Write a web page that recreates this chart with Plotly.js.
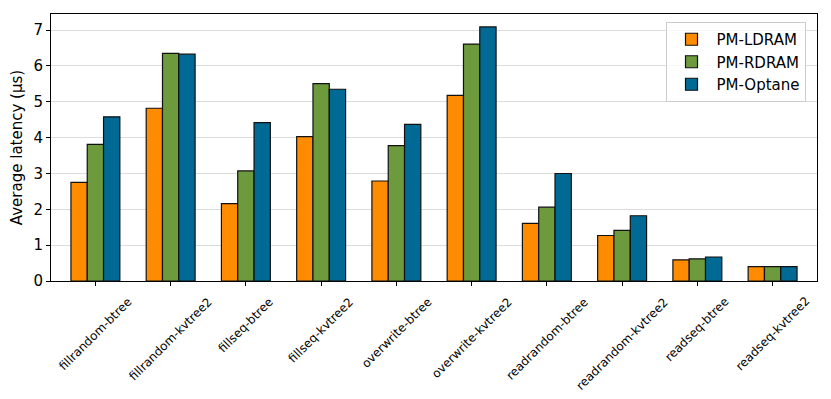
<!DOCTYPE html>
<html>
<head>
<meta charset="utf-8">
<script src="https://cdn.plot.ly/plotly-3.0.1.min.js"></script>
<style>
  body { margin: 0; background: #fff; }
  #graphDiv { width: 831px; height: 399px; }
</style>
</head>
<body>
<div id="graphDiv"></div>
<script>
// benchmarks on the x axis
let benchmarks = ["fillrandom-btree", "fillrandom-kvtree2", "fillseq-btree", "fillseq-kvtree2",
    "overwrite-btree", "overwrite-kvtree2", "readrandom-btree", "readrandom-kvtree2",
    "readseq-btree", "readseq-kvtree2"];

// average latency (us) per backend
let ldram = [2.75, 4.82, 2.16, 4.03, 2.79, 5.18, 1.61, 1.27, 0.59, 0.40];
let rdram = [3.81, 6.35, 3.07, 5.51, 3.78, 6.61, 2.06, 1.41, 0.62, 0.40];
let optane = [4.58, 6.33, 4.42, 5.35, 4.37, 7.09, 3.00, 1.82, 0.67, 0.40];

let yTicks = [0, 1, 2, 3, 4, 5, 6, 7];

let idx = benchmarks.map((b, i) => i);

function barra(nombre, valores, color) {
    return {
        type: 'bar',
        name: nombre,
        x: idx,
        y: valores,
        marker: {color: color, line: {color: '#111', width: 1.2}}
    };
}

var data = [
    barra('PM-LDRAM', ldram, '#ff8c00'),
    barra('PM-RDRAM', rdram, '#6c9a3c'),
    barra('PM-Optane', optane, '#006994')
];

// etiquetas rotadas centradas bajo cada tick (como matplotlib)
let etiquetas = benchmarks.map((b, i) => ({
    text: b,
    x: i, xref: 'x',
    y: 0, yref: 'paper',
    xanchor: 'center', yanchor: 'top',
    yshift: -11,
    textangle: -45,
    showarrow: false,
    font: {size: 12, color: '#000000'}
}));

var layout = {
    width: 831,
    height: 399,
    margin: {l: 51, r: 14, t: 14, b: 118},
    paper_bgcolor: '#fff',
    plot_bgcolor: '#fff',
    font: {family: 'DejaVu Sans', size: 15, color: '#000'},
    barmode: 'group',
    bargap: 0.35,
    bargroupgap: 0,
    showlegend: true,
    legend: {
        x: 0.985, xanchor: 'right', y: 0.97, yanchor: 'top',
        bgcolor: 'rgba(255,255,255,0.8)',
        bordercolor: '#ccc', borderwidth: 1,
        font: {size: 15},
        itemwidth: 40
    },
    annotations: etiquetas,
    xaxis: {
        range: [-0.59, 9.59],
        tickvals: idx,
        showticklabels: false,
        ticks: 'outside', ticklen: 4, tickcolor: '#000',
        showline: true, mirror: true, linecolor: '#000', linewidth: 1,
        showgrid: false, zeroline: false
    },
    yaxis: {
        title: {text: 'Average latency (µs)', font: {size: 15}, standoff: 7},
        range: [0, 7.45],
        tickvals: yTicks,
        ticks: 'outside', ticklen: 4, tickcolor: '#000',
        showline: true, mirror: true, linecolor: '#000', linewidth: 1,
        showgrid: true, gridcolor: '#dcdcdc', gridwidth: 1,
        zeroline: false
    }
};

Plotly.newPlot('graphDiv', data, layout, {displayModeBar: false, staticPlot: true});
</script>
</body>
</html>
